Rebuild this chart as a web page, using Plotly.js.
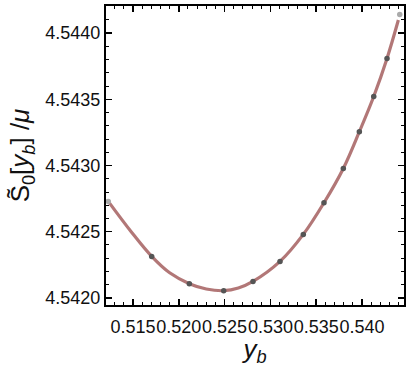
<!DOCTYPE html>
<html>
<head>
<meta charset="utf-8">
<script src="https://cdn.plot.ly/plotly-3.0.1.min.js"></script>
<style>html,body{margin:0;padding:0;background:#fff;}#chart{width:412px;height:367px;}</style>
</head>
<body>
<div id="chart"></div>
<script>
// Sampled points (dark)
const ptsX = [0.51704, 0.52115, 0.52490, 0.52810, 0.53105, 0.53359, 0.53585, 0.53796, 0.53971, 0.54128, 0.54273];
const ptsY = [4.542314, 4.542108, 4.542055, 4.542125, 4.542276, 4.542480, 4.542719, 4.542978, 4.543255, 4.543521, 4.543808];
// Endpoint samples (light gray)
const endX = [0.51230, 0.54412];
const endY = [4.542729, 4.544140];
// Fitted curve
const fitX = [0.51230, 0.51480, 0.51704, 0.51900, 0.52115, 0.52300, 0.52490, 0.52650, 0.52810, 0.53105, 0.53359, 0.53585, 0.53796, 0.53971, 0.54128, 0.54273, 0.54397];
const fitY = [4.542729, 4.542500, 4.542314, 4.542190, 4.542108, 4.542068, 4.542055, 4.542075, 4.542125, 4.542276, 4.542480, 4.542719, 4.542978, 4.543255, 4.543521, 4.543808, 4.544098];
const xTicks = [0.515, 0.520, 0.525, 0.530, 0.535, 0.540];
const yTicks = [4.5420, 4.5425, 4.5430, 4.5435, 4.5440];

const traces = [
  {x: fitX, y: fitY, mode: 'lines', line: {color: 'rgba(165,95,95,0.85)', width: 3.2, shape: 'spline', smoothing: 1}, hoverinfo: 'skip'},
  {x: ptsX, y: ptsY, mode: 'markers', marker: {color: '#555', size: 5.5}},
  {x: endX, y: endY, mode: 'markers', marker: {color: '#aaa', size: 5.5}}
];
const axisCommon = {
  showline: true, linecolor: '#000', linewidth: 2, mirror: 'ticks',
  ticks: 'inside', ticklen: 6, tickwidth: 1.5, tickcolor: '#000',
  showgrid: false, zeroline: false,
  tickfont: {family: 'Liberation Sans, Arial, sans-serif', size: 18, color: '#111'}
};
const layout = {
  width: 412, height: 367,
  margin: {l: 106, r: 8, t: 6, b: 62},
  showlegend: false,
  paper_bgcolor: '#fff', plot_bgcolor: '#fff',
  xaxis: Object.assign({}, axisCommon, {
    range: [0.512052, 0.544585],
    tickvals: xTicks, ticktext: xTicks.map(v => v.toFixed(3)),
    tickangle: 0, ticklabelstandoff: 4,
    minor: {dtick: 0.001, tick0: 0.515, ticks: 'inside', ticklen: 3, tickwidth: 1, tickcolor: '#000'},
    title: {text: '<i>y</i><sub><i>b</i></sub>', font: {family: 'Liberation Sans, Arial, sans-serif', size: 26, color: '#111'}, standoff: 10}
  }),
  yaxis: Object.assign({}, axisCommon, {
    range: [4.541947, 4.544204],
    tickvals: yTicks, ticktext: yTicks.map(v => v.toFixed(4)),
    minor: {dtick: 0.0001, tick0: 4.5420, ticks: 'inside', ticklen: 3, tickwidth: 1, tickcolor: '#000'},
    title: {text: 'S\u0303<sub>0</sub>[<i>y</i><sub><i>b</i></sub>] /<i>\u03bc</i>', font: {family: 'Liberation Sans, Arial, sans-serif', size: 26, color: '#111'}, standoff: 8}
  })
};
Plotly.newPlot('chart', traces, layout, {displayModeBar: false, staticPlot: true});
</script>
</body>
</html>
